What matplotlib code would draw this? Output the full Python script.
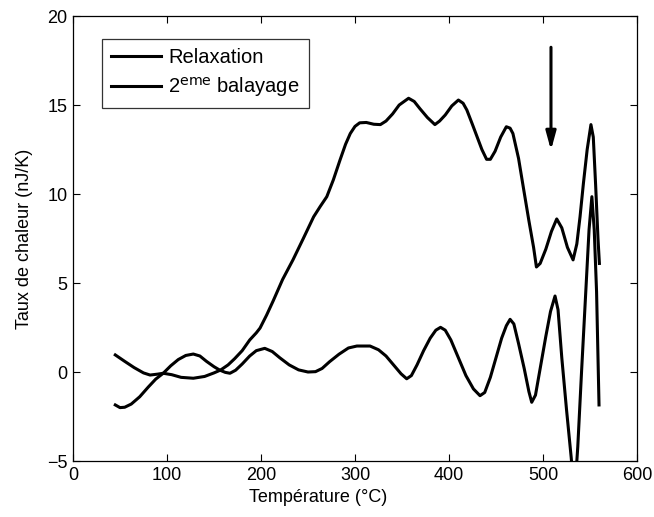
import numpy as np
import matplotlib.pyplot as plt

plt.rcParams['font.family'] = ['Liberation Sans', 'DejaVu Sans']

# Relaxation (curve that climbs to ~15 nJ/K)
temp_relax = [45, 55, 65, 75, 82, 90, 96, 105, 115, 128, 140, 150, 157, 165, 172,
              180, 188, 195, 199, 206, 213, 223, 234, 245, 256, 263, 270, 277, 284,
              290, 295, 300, 305, 312, 320, 327, 333, 340, 347, 357, 363, 369, 377,
              385, 390, 396, 403, 410, 415, 419, 425, 430, 435, 440, 444, 449, 455,
              461, 465, 468, 474, 479, 485, 490, 493, 497, 503, 509, 514.6, 520, 526,
              532, 536, 539.4, 543, 547, 551, 553.5, 556, 558.5, 560]
heat_relax = [0.96, 0.6, 0.25, -0.05, -0.17, -0.12, -0.07, -0.15, -0.3, -0.35, -0.25,
              -0.05, 0.11, 0.4, 0.75, 1.2, 1.8, 2.2, 2.47, 3.2, 4.0, 5.2, 6.3, 7.5, 8.72,
              9.3, 9.85, 10.8, 11.9, 12.8, 13.4, 13.8, 14.0, 14.02, 13.92, 13.9, 14.1,
              14.5, 15.0, 15.38, 15.2, 14.8, 14.3, 13.9, 14.1, 14.44, 14.95, 15.28, 15.1,
              14.72, 13.9, 13.2, 12.5, 11.95, 11.95, 12.4, 13.2, 13.78, 13.7, 13.4, 12.0,
              10.4, 8.5, 7.0, 5.9, 6.1, 6.9, 7.9, 8.6, 8.1, 7.0, 6.3, 7.2, 8.72, 10.6,
              12.5, 13.9, 13.2, 10.5, 7.5, 6.1]

# 2eme balayage (curve oscillating around 0)
temp_scan2 = [45, 50, 55, 62, 71, 80, 88, 96, 104, 112, 120, 128, 135, 142, 150, 156,
              162, 167, 173, 180, 188, 195, 204, 212, 220, 230, 240, 250, 258, 265, 273,
              283, 293, 302, 316, 325, 333, 341, 349, 355, 360, 366, 373, 380, 386, 391,
              396, 402, 410, 418, 426, 433, 438, 444, 450, 456, 461, 465, 469, 474, 480,
              485, 488, 492, 497, 503, 508, 512.8, 516, 520, 525, 530, 533.5, 537, 541,
              546, 549, 552, 554.5, 557, 559.6]
heat_scan2 = [-1.85, -2.0, -1.98, -1.8, -1.39, -0.85, -0.4, -0.07, 0.35, 0.7, 0.93, 1.01,
              0.9, 0.6, 0.3, 0.11, -0.02, -0.07, 0.1, 0.45, 0.9, 1.2, 1.33, 1.15, 0.8,
              0.4, 0.12, 0.0, 0.02, 0.2, 0.58, 1.0, 1.35, 1.46, 1.46, 1.25, 0.9, 0.4,
              -0.1, -0.38, -0.2, 0.4, 1.2, 1.9, 2.35, 2.51, 2.35, 1.8, 0.8, -0.2, -0.95,
              -1.33, -1.15, -0.3, 0.8, 1.9, 2.6, 2.96, 2.7, 1.6, 0.2, -1.1, -1.7, -1.3,
              0.2, 2.0, 3.4, 4.27, 3.5, 0.8, -2.1, -4.8, -7.0, -4.2, 0.0, 5.0, 8.0, 9.85,
              8.0, 4.5, -1.85]

fig = plt.figure(figsize=(6.54, 5.17), dpi=100)
ax = fig.add_axes([0.1116, 0.1083, 0.8624, 0.8607])

ax.plot(temp_relax, heat_relax, color='black', lw=2.2, label='Relaxation')
ax.plot(temp_scan2, heat_scan2, color='black', lw=2.2, label=r'2$^{\mathrm{eme}}$ balayage')

# arrow marking the peak
ax.annotate('', xy=(508.5, 12.3), xytext=(508.5, 18.4),
            arrowprops=dict(arrowstyle='-|>,head_width=0.3,head_length=1.1',
                            color='black', lw=2.2))

ax.set_xlim(0, 600)
ax.set_ylim(-5, 20)
ax.set_xticks(np.arange(0, 601, 100))
ax.set_yticks(np.arange(-5, 21, 5))
ax.tick_params(direction='in', top=True, right=True, length=5, labelsize=13, pad=4)
for s in ax.spines.values():
    s.set_linewidth(0.9)

ax.set_xlabel('Température (°C)', fontsize=13, labelpad=3)
ax.xaxis.set_label_coords(0.434, -0.062)
ax.set_ylabel('Taux de chaleur (nJ/K)', fontsize=13, labelpad=10)

leg = ax.legend(loc='upper left', bbox_to_anchor=(0.051, 0.948), borderaxespad=0,
                fontsize=14.5, frameon=True, fancybox=False, edgecolor='black',
                handlelength=2.5, handletextpad=0.35, borderpad=0.45, labelspacing=0.4)
leg.get_frame().set_linewidth(0.9)

plt.savefig('out.png', dpi=100)
